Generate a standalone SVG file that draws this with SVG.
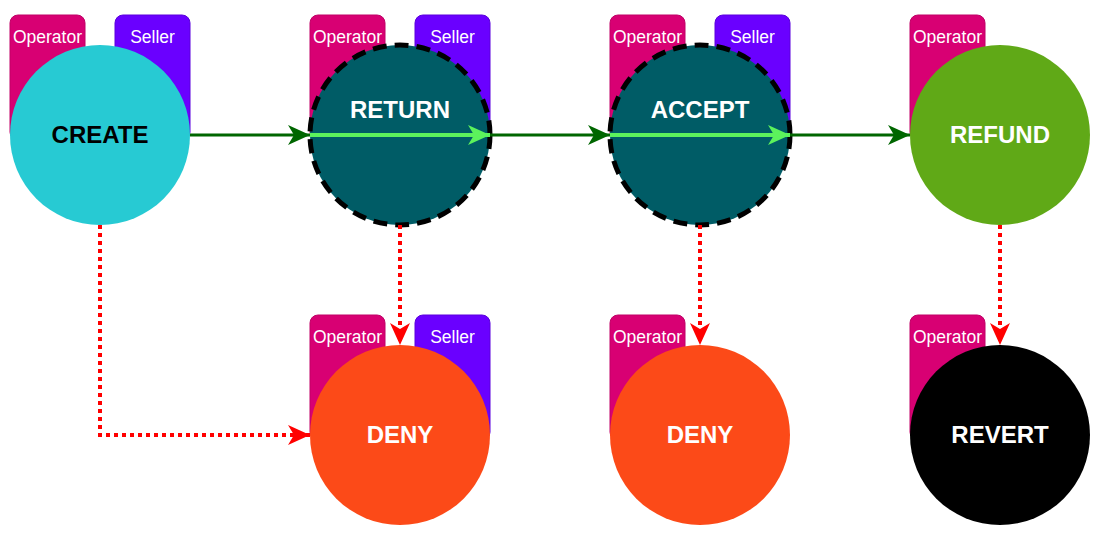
<svg xmlns="http://www.w3.org/2000/svg" width="1117" height="539" viewBox="0 0 1117 539">
<defs>
<style>
.op{fill:#d80073;stroke:#c00066;stroke-width:1}
.se{fill:#6a00ff;stroke:#5a00dd;stroke-width:1}
.lbl{font-family:"Liberation Sans",Arial,sans-serif;font-size:17.5px;fill:#ffffff;text-anchor:middle}
.title{font-family:"Liberation Sans",Arial,sans-serif;font-size:24px;font-weight:bold;text-anchor:middle;fill:#ffffff}
.dash{stroke:#000;stroke-width:5;stroke-dasharray:14 8}
.ok{stroke:#006600;stroke-width:3;fill:none}
.in{stroke:#5cf25c;stroke-width:4;fill:none}
.no{stroke:#ff0000;stroke-width:4;fill:none;stroke-dasharray:4 4}
</style>
<marker id="ag" viewBox="0 0 22 20" refX="22" refY="10" markerWidth="22" markerHeight="20" markerUnits="userSpaceOnUse" orient="auto"><path d="M0,0 L22,10 L0,20 L6,10 Z" fill="#006600"/></marker>
<marker id="al" viewBox="0 0 22 20" refX="22" refY="10" markerWidth="22" markerHeight="20" markerUnits="userSpaceOnUse" orient="auto"><path d="M0,0 L22,10 L0,20 L6,10 Z" fill="#5cf25c"/></marker>
<marker id="ar" viewBox="0 0 22 20" refX="22" refY="10" markerWidth="22" markerHeight="20" markerUnits="userSpaceOnUse" orient="auto"><path d="M0,0 L22,10 L0,20 L6,10 Z" fill="#ff0000"/></marker>
</defs>
<rect width="1117" height="539" fill="#ffffff"/>

<g id="create">
<rect class="op" x="10" y="15" width="75" height="125" rx="8"/>
<text class="lbl" x="47.5" y="43">Operator</text>
<rect class="se" x="115" y="15" width="75" height="125" rx="8"/>
<text class="lbl" x="152.5" y="43">Seller</text>
<circle cx="100" cy="135" r="90" fill="#27cad3"/>
<text class="title" x="100" y="143" style="fill:#000000">CREATE</text>
</g>

<g id="return">
<rect class="op" x="310" y="15" width="75" height="125" rx="8"/>
<text class="lbl" x="347.5" y="43">Operator</text>
<rect class="se" x="415" y="15" width="75" height="125" rx="8"/>
<text class="lbl" x="452.5" y="43">Seller</text>
<circle cx="400" cy="135" r="90" fill="#005c66" class="dash"/>
<text class="title" x="400" y="118">RETURN</text>
<line class="in" x1="310" y1="135" x2="490" y2="135" marker-end="url(#al)"/>
</g>

<g id="accept">
<rect class="op" x="610" y="15" width="75" height="125" rx="8"/>
<text class="lbl" x="647.5" y="43">Operator</text>
<rect class="se" x="715" y="15" width="75" height="125" rx="8"/>
<text class="lbl" x="752.5" y="43">Seller</text>
<circle cx="700" cy="135" r="90" fill="#005c66" class="dash"/>
<text class="title" x="700" y="118">ACCEPT</text>
<line class="in" x1="610" y1="135" x2="790" y2="135" marker-end="url(#al)"/>
</g>

<g id="refund">
<rect class="op" x="910" y="15" width="75" height="125" rx="8"/>
<text class="lbl" x="947.5" y="43">Operator</text>
<circle cx="1000" cy="135" r="90" fill="#60a917"/>
<text class="title" x="1000" y="143">REFUND</text>
</g>

<g id="deny1">
<rect class="op" x="310" y="315" width="75" height="125" rx="8"/>
<text class="lbl" x="347.5" y="343">Operator</text>
<rect class="se" x="415" y="315" width="75" height="125" rx="8"/>
<text class="lbl" x="452.5" y="343">Seller</text>
<circle cx="400" cy="435" r="90" fill="#fc4a18"/>
<text class="title" x="400" y="443">DENY</text>
</g>

<g id="deny2">
<rect class="op" x="610" y="315" width="75" height="125" rx="8"/>
<text class="lbl" x="647.5" y="343">Operator</text>
<circle cx="700" cy="435" r="90" fill="#fc4a18"/>
<text class="title" x="700" y="443">DENY</text>
</g>

<g id="revert">
<rect class="op" x="910" y="315" width="75" height="125" rx="8"/>
<text class="lbl" x="947.5" y="343">Operator</text>
<circle cx="1000" cy="435" r="90" fill="#000000"/>
<text class="title" x="1000" y="443">REVERT</text>
</g>

<g id="connectors">
<line class="ok" x1="190" y1="135" x2="310" y2="135" marker-end="url(#ag)"/>
<line class="ok" x1="490" y1="135" x2="610" y2="135" marker-end="url(#ag)"/>
<line class="ok" x1="790" y1="135" x2="910" y2="135" marker-end="url(#ag)"/>
<polyline class="no" points="100,225 100,435 310,435" marker-end="url(#ar)"/>
<line class="no" x1="400" y1="225" x2="400" y2="345" marker-end="url(#ar)"/>
<line class="no" x1="700" y1="225" x2="700" y2="345" marker-end="url(#ar)"/>
<line class="no" x1="1000" y1="225" x2="1000" y2="345" marker-end="url(#ar)"/>
</g>
</svg>
